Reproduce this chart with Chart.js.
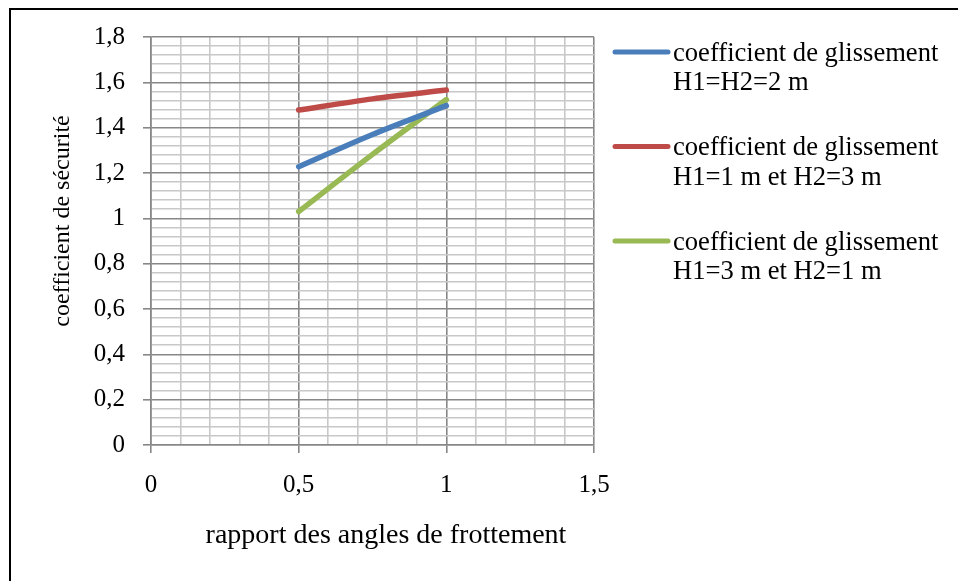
<!DOCTYPE html>
<html><head><meta charset="utf-8">
<script src="https://cdn.jsdelivr.net/npm/chart.js@4"></script>
<style>html,body{margin:0;padding:0;background:#fff}#wrap{width:958px;height:581px}</style>
</head><body><div id="wrap"><canvas id="c" width="958" height="581"></canvas></div>
<script>
// ---- data ----
const xValues = [0.5, 0.75, 1];
const seriesLabels = [
  'coefficient de glissement\nH1=H2=2 m',
  'coefficient de glissement\nH1=1 m et H2=3 m',
  'coefficient de glissement\nH1=3 m et H2=1 m'
];
const blueValues  = [1.228, 1.370, 1.497];
const redValues   = [1.478, 1.527, 1.566];
const greenValues = [1.030, 1.282, 1.524];
const seriesColors = ['#4A7EBB', '#BE4B48', '#98B954'];
const xTickValues = [0, 0.5, 1, 1.5];
const xTickLabels = ['0', '0,5', '1', '1,5'];
const yTickValues = [0, 0.2, 0.4, 0.6, 0.8, 1, 1.2, 1.4, 1.6, 1.8];
const yTickLabels = ['0', '0,2', '0,4', '0,6', '0,8', '1', '1,2', '1,4', '1,6', '1,8'];
const xTitle = 'rapport des angles de frottement';
const yTitle = 'coefficient de sécurité';

const FONT = "'Liberation Serif', 'Times New Roman', serif";
const MINOR = '#c8c8c8', MAJOR = '#878787';

function labelFor(v, vals, labels) {
  for (let i = 0; i < vals.length; i++) if (Math.abs(v - vals[i]) < 1e-6) return labels[i];
  return '';
}
function isMajor(v, vals) { return vals.some(t => Math.abs(v - t) < 1e-6); }

const seriesValues = [blueValues, redValues, greenValues];
const datasets = seriesValues.map((vals, i) => ({
  label: seriesLabels[i],
  data: xValues.map((x, j) => ({ x: x, y: vals[j] })),
  borderColor: seriesColors[i],
  backgroundColor: seriesColors[i],
  borderWidth: 5.5,
  borderCapStyle: 'round',
  borderJoinStyle: 'round',
  showLine: true,
  pointRadius: 0,
  pointHoverRadius: 0,
  tension: 0.3
}));

const framePlugin = {
  id: 'frame',
  beforeDraw(chart) {
    const ctx = chart.ctx;
    ctx.save();
    ctx.fillStyle = '#fff';
    ctx.fillRect(0, 0, chart.width, chart.height);
    ctx.strokeStyle = '#000';
    ctx.lineWidth = 2;
    ctx.beginPath();
    ctx.moveTo(10, chart.height + 2);
    ctx.lineTo(10, 9);
    ctx.lineTo(chart.width + 2, 9);
    ctx.stroke();
    ctx.restore();
  }
};

const textPlugin = {
  id: 'texts',
  afterDraw(chart) {
    const ctx = chart.ctx;
    ctx.save();
    ctx.fillStyle = '#000';
    // y title
    ctx.font = '24px ' + FONT;
    ctx.textAlign = 'center';
    ctx.textBaseline = 'middle';
    ctx.translate(63, 221);
    ctx.rotate(-Math.PI / 2);
    ctx.fillText(yTitle, 0, 0);
    ctx.setTransform(1, 0, 0, 1, 0, 0);
    // x title
    ctx.font = '28px ' + FONT;
    ctx.fillText(xTitle, 386, 536);
    // legend
    ctx.font = '26.6px ' + FONT;
    ctx.textAlign = 'left';
    chart.data.datasets.forEach((ds, i) => {
      const y0 = 54 + i * 94.5;
      ctx.strokeStyle = ds.borderColor;
      ctx.lineWidth = 5;
      ctx.lineCap = 'round';
      ctx.beginPath();
      ctx.moveTo(615, y0 - 2);
      ctx.lineTo(668, y0 - 2);
      ctx.stroke();
      ds.label.split('\n').forEach((line, k) => {
        ctx.fillText(line, 673, y0 + k * 29.5);
      });
    });
    ctx.restore();
  }
};

new Chart(document.getElementById('c'), {
  type: 'scatter',
  data: { datasets },
  options: {
    responsive: false,
    animation: false,
    devicePixelRatio: 1,
    layout: { padding: { left: 0, right: 364, top: 37, bottom: 0 } },
    plugins: { legend: { display: false }, tooltip: { enabled: false } },
    scales: {
      x: {
        type: 'linear', min: 0, max: 1.5,
        afterFit(s) { s.height = 136; },
        ticks: {
          stepSize: 0.1, autoSkip: false, maxRotation: 0,
          font: { family: FONT, size: 25 }, color: '#000', padding: 17,
          callback: (v) => labelFor(v, xTickValues, xTickLabels)
        },
        grid: {
          color: (c) => isMajor(c.tick.value, xTickValues) ? MAJOR : MINOR,
          tickColor: (c) => isMajor(c.tick.value, xTickValues) ? MAJOR : 'rgba(0,0,0,0)',
          lineWidth: 1.6, tickLength: 8
        },
        border: { color: MAJOR, width: 1.6 }
      },
      y: {
        type: 'linear', min: 0, max: 1.8,
        afterFit(s) { s.width = 151; },
        ticks: {
          stepSize: 0.04, autoSkip: false,
          font: { family: FONT, size: 25 }, color: '#000', padding: 18,
          callback: (v) => labelFor(v, yTickValues, yTickLabels)
        },
        grid: {
          color: (c) => isMajor(c.tick.value, yTickValues) ? MAJOR : MINOR,
          tickColor: (c) => isMajor(c.tick.value, yTickValues) ? MAJOR : 'rgba(0,0,0,0)',
          lineWidth: 1.6, tickLength: 8
        },
        border: { color: MAJOR, width: 1.6 }
      }
    }
  },
  plugins: [framePlugin, textPlugin]
});
</script>
</body></html>
